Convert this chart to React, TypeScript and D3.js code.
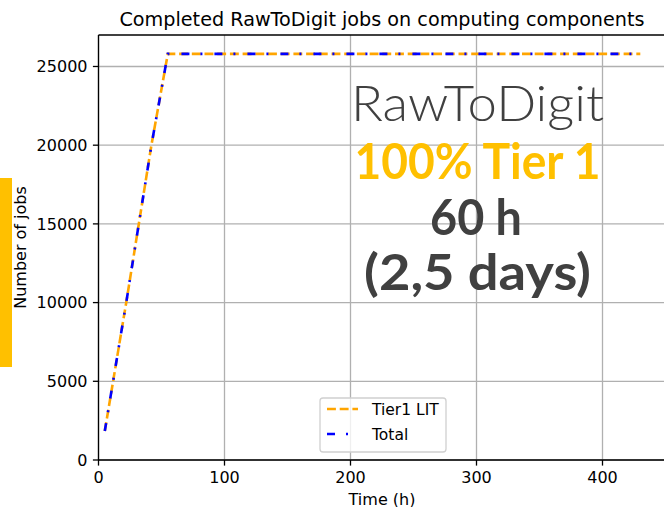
import React from "react";
import * as d3 from "d3";

const timeHours = [5, 22, 42, 55, 430];
const tier1Jobs = [1840, 10000, 20000, 25800, 25800];
const totalJobs = [1840, 10000, 20000, 25800, 25800];
const xTicks = [0, 100, 200, 300, 400];
const yTicks = [0, 5000, 10000, 15000, 20000, 25000];
const seriesNames = ["Tier1 LIT", "Total"];
const overlayLines = ["RawToDigit", "100% Tier 1", "60 h", "(2,5 days)"];

const W = 664;
const H = 507;
const M = { left: 98.5, right: 665.5, top: 35, bottom: 460 };

export default function App() {
  const x = d3.scaleLinear().domain([0, 450]).range([M.left, M.right]);
  const y = d3.scaleLinear().domain([0, 27000]).range([M.bottom, M.top]);
  const line = d3
    .line<[number, number]>()
    .x((d) => x(d[0]))
    .y((d) => y(d[1]));
  const tierPts = timeHours.map((t, i) => [t, tier1Jobs[i]] as [number, number]);
  const totPts = timeHours.map((t, i) => [t, totalJobs[i]] as [number, number]);
  const font = "DejaVu Sans, sans-serif";
  const gothic = "'URW Gothic', 'Century Gothic', Lato, 'DejaVu Sans', sans-serif";
  const cx = 477.5;
  const lw = 2.6;
  const orangeDash = "8.9 3.8";
  const blueDash = "8 11 2 12";
  return (
    <svg
      width={W}
      height={H}
      style={{ position: "absolute", left: 0, top: 0, background: "#fff" }}
      fontFamily={font}
    >
      <rect x={0} y={178} width={12} height={189} fill="#FFC000" />
      {/* grid */}
      {xTicks.map((t) => (
        <line key={"gx" + t} x1={x(t)} x2={x(t)} y1={M.top} y2={M.bottom} stroke="#b0b0b0" strokeWidth={1.3} />
      ))}
      {yTicks.map((t) => (
        <line key={"gy" + t} x1={M.left} x2={M.right} y1={y(t)} y2={y(t)} stroke="#b0b0b0" strokeWidth={1.3} />
      ))}
      {/* spines */}
      <line x1={M.left} x2={M.right} y1={M.top} y2={M.top} stroke="#000" strokeWidth={1.3} />
      <line x1={M.left} x2={M.right} y1={M.bottom} y2={M.bottom} stroke="#000" strokeWidth={1.3} />
      <line x1={M.left} x2={M.left} y1={M.top} y2={M.bottom} stroke="#000" strokeWidth={1.3} />
      {/* ticks */}
      {xTicks.map((t) => (
        <g key={"tx" + t}>
          <line x1={x(t)} x2={x(t)} y1={M.bottom} y2={M.bottom + 5.6} stroke="#000" strokeWidth={1.3} />
          <text x={x(t)} y={M.bottom + 23} fontSize={16} textAnchor="middle" fill="#000">
            {t}
          </text>
        </g>
      ))}
      {yTicks.map((t) => (
        <g key={"ty" + t}>
          <line x1={M.left - 5.6} x2={M.left} y1={y(t)} y2={y(t)} stroke="#000" strokeWidth={1.3} />
          <text x={M.left - 11} y={y(t)} dy="0.36em" fontSize={16} textAnchor="end" fill="#000">
            {t}
          </text>
        </g>
      ))}
      {/* overlay text */}
      <text x={cx} y={121} textAnchor="middle" fontFamily={gothic} fontWeight={300} fontSize={50} fill="#404040"
        textLength={253} lengthAdjust="spacingAndGlyphs">
        {overlayLines[0]}
      </text>
      <text x={cx} y={179} textAnchor="middle" fontFamily={gothic} fontWeight={700} fontSize={50} fill="#FFC000"
        textLength={246} lengthAdjust="spacingAndGlyphs">
        {overlayLines[1]}
      </text>
      <text x={476} y={235} textAnchor="middle" fontFamily={gothic} fontWeight={700} fontSize={50} fill="#404040"
        textLength={92} lengthAdjust="spacingAndGlyphs">
        {overlayLines[2]}
      </text>
      <text x={cx} y={290} textAnchor="middle" fontFamily={gothic} fontWeight={700} fontSize={50} fill="#404040"
        textLength={227} lengthAdjust="spacingAndGlyphs">
        {overlayLines[3]}
      </text>
      {/* lines */}
      <path d={line(tierPts) || ""} fill="none" stroke="#FFA500" strokeWidth={lw} strokeDasharray={orangeDash} />
      <path d={line(totPts) || ""} fill="none" stroke="#0000FF" strokeWidth={lw} strokeDasharray={blueDash} />
      {/* title and labels */}
      <text x={(M.left + M.right) / 2} y={26} fontSize={19.2} textAnchor="middle" fill="#000">
        Completed RawToDigit jobs on computing components
      </text>
      <text x={(M.left + M.right) / 2} y={505} fontSize={16} textAnchor="middle" fill="#000">
        Time (h)
      </text>
      <text
        transform={`translate(26, ${(M.top + M.bottom) / 2}) rotate(-90)`}
        fontSize={16}
        textAnchor="middle"
        fill="#000"
      >
        Number of jobs
      </text>
      {/* legend */}
      <g>
        <rect x={320} y={398} width={126} height={54} rx={3} fill="#fff" fillOpacity={0.8} stroke="#d0d0d0" strokeWidth={1.3} />
        <line x1={327} x2={358} y1={409} y2={409} stroke="#FFA500" strokeWidth={lw} strokeDasharray={orangeDash} />
        <text x={372} y={409} dy="0.36em" fontSize={15.5} fill="#000">
          {seriesNames[0]}
        </text>
        <line x1={327} x2={358} y1={434} y2={434} stroke="#0000FF" strokeWidth={lw} strokeDasharray={blueDash} />
        <text x={372} y={434} dy="0.36em" fontSize={15.5} fill="#000">
          {seriesNames[1]}
        </text>
      </g>
    </svg>
  );
}
